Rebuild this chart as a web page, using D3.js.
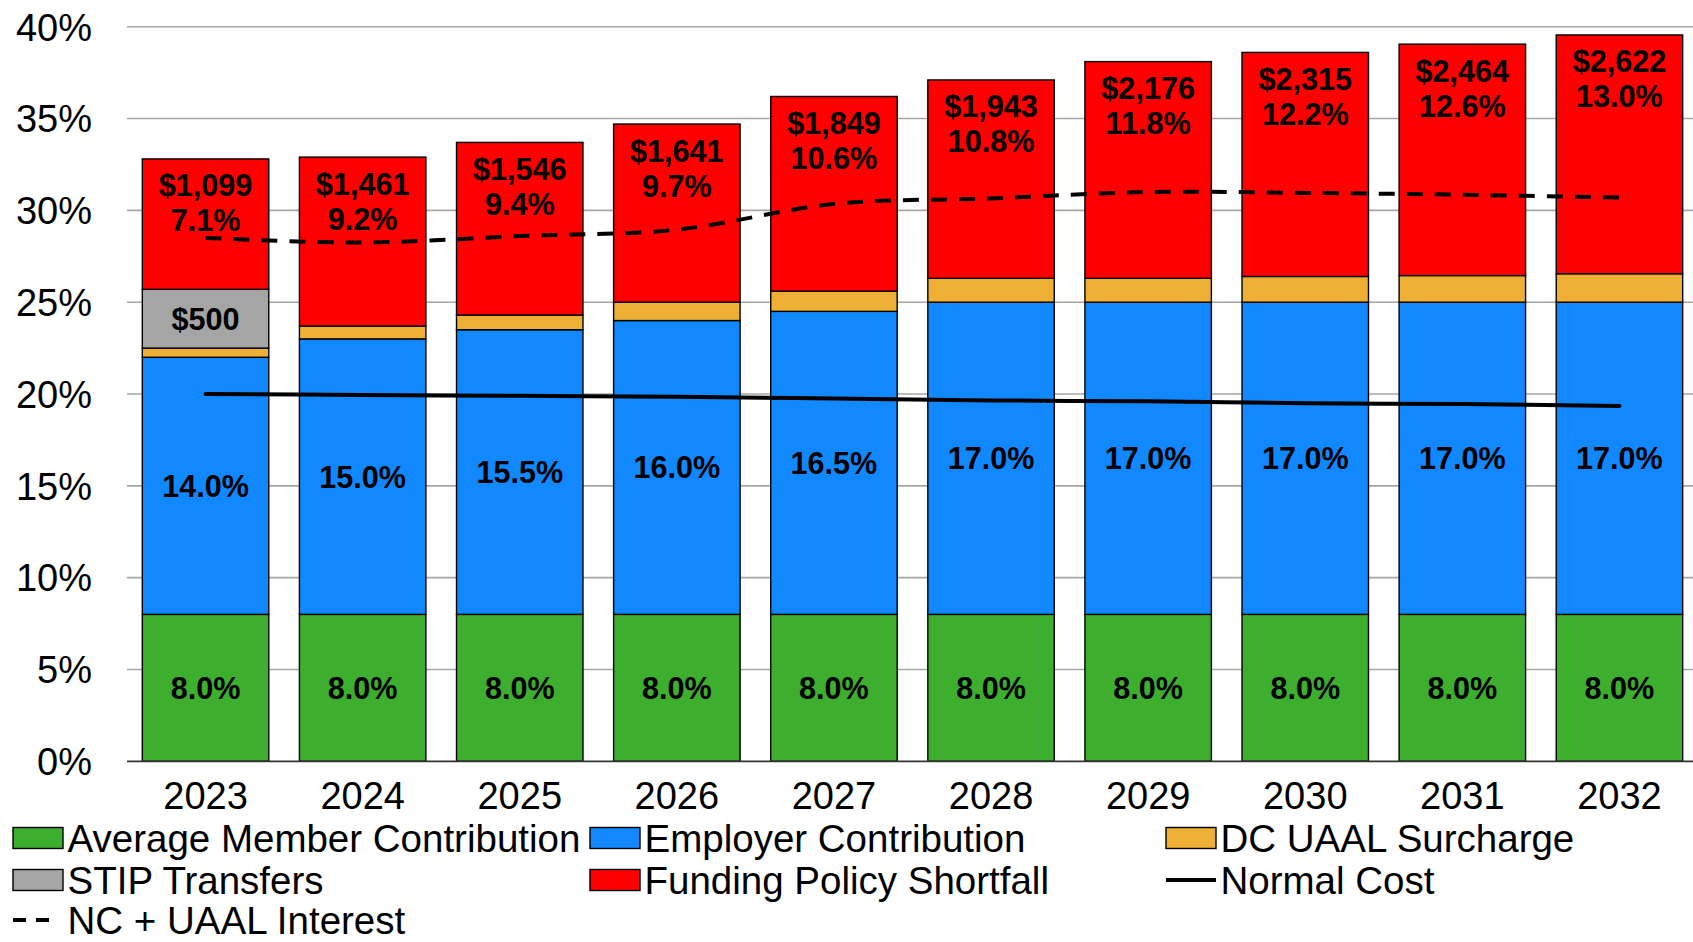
<!DOCTYPE html>
<html>
<head>
<meta charset="utf-8">
<script src="https://cdn.jsdelivr.net/npm/d3@7/dist/d3.min.js"></script>
<style>
  html, body { margin: 0; padding: 0; background: #fff; }
  svg { display: block; font-family: "Liberation Sans", Arial, sans-serif; }
</style>
</head>
<body>
<svg id="chart" width="1693" height="942"></svg>
<script>
// Contribution rates by fiscal year (percent of payroll)
const years = ["2023", "2024", "2025", "2026", "2027", "2028", "2029", "2030", "2031", "2032"];
const memberPct = [8.0, 8.0, 8.0, 8.0, 8.0, 8.0, 8.0, 8.0, 8.0, 8.0];
const employerPct = [14.0, 15.0, 15.5, 16.0, 16.5, 17.0, 17.0, 17.0, 17.0, 17.0];
const surchargePct = [0.5, 0.7, 0.8, 1.0, 1.1, 1.3, 1.3, 1.4, 1.45, 1.55];
const stipPct = [3.2, 0, 0, 0, 0, 0, 0, 0, 0, 0];
const stipDollars = [500, null, null, null, null, null, null, null, null, null];
const shortfallPct = [7.1, 9.2, 9.4, 9.7, 10.6, 10.8, 11.8, 12.2, 12.6, 13.0];
const shortfallDollars = [1099, 1461, 1546, 1641, 1849, 1943, 2176, 2315, 2464, 2622];
const normalCost = [20.0, 19.95, 19.9, 19.85, 19.75, 19.65, 19.6, 19.5, 19.45, 19.35];
const ncUaalInterest = [28.5, 28.25, 28.6, 28.95, 30.35, 30.65, 31.0, 30.95, 30.85, 30.7];
const yTicks = [0, 5, 10, 15, 20, 25, 30, 35, 40];

const seriesKeys = ["member", "employer", "surcharge", "stip", "shortfall"];
const seriesNames = {
  member: "Average Member Contribution",
  employer: "Employer Contribution",
  surcharge: "DC UAAL Surcharge",
  stip: "STIP Transfers",
  shortfall: "Funding Policy Shortfall"
};
const colors = {
  member: "#3DAE2E",
  employer: "#1288FF",
  surcharge: "#EDB034",
  stip: "#A5A5A5",
  shortfall: "#FF0000"
};

const rows = years.map((y, i) => ({
  year: y,
  member: memberPct[i],
  employer: employerPct[i],
  surcharge: surchargePct[i],
  stip: stipPct[i],
  shortfall: shortfallPct[i]
}));

const svg = d3.select("#chart");
const FONT = "Liberation Sans, Arial, sans-serif";

const x = d3.scaleBand().domain(years).range([127, 1698]).paddingInner(0.195).paddingOuter(0.0975);
const y = d3.scaleLinear().domain([0, 40]).range([761.3, 26.7]);

// Horizontal gridlines
svg.append("g")
  .selectAll("line")
  .data(yTicks.filter(t => t > 0))
  .join("line")
  .attr("x1", 127).attr("x2", 1693)
  .attr("y1", d => y(d)).attr("y2", d => y(d))
  .attr("stroke", "#A6A6A6").attr("stroke-width", 1.6);

// Y axis labels
const yAxis = d3.axisLeft(y).tickValues(yTicks).tickFormat(d => d + "%").tickSize(0).tickPadding(0);
const yg = svg.append("g").attr("transform", "translate(92,0)").call(yAxis);
yg.select(".domain").remove();
yg.selectAll("text")
  .attr("font-family", FONT).attr("font-size", 38).attr("fill", "#000")
  .attr("dy", "0.35em");

// Stacked bars
const stack = d3.stack().keys(seriesKeys);
const stacked = stack(rows);

const barG = svg.append("g");
stacked.forEach(layer => {
  barG.append("g")
    .selectAll("rect")
    .data(layer.filter(d => d[1] - d[0] > 0))
    .join("rect")
    .attr("x", d => x(d.data.year))
    .attr("width", x.bandwidth())
    .attr("y", d => y(d[1]))
    .attr("height", d => y(d[0]) - y(d[1]))
    .attr("fill", colors[layer.key])
    .attr("stroke", "#000")
    .attr("stroke-width", 1.4);
});

// X axis
const xAxis = d3.axisBottom(x).tickSize(0).tickPadding(0);
const xg = svg.append("g").attr("transform", "translate(0,761.3)").call(xAxis);
xg.select(".domain").remove();
xg.selectAll("text")
  .attr("font-family", FONT).attr("font-size", 38).attr("fill", "#000")
  .attr("dy", null).attr("y", 48);
svg.append("line")
  .attr("x1", 127).attr("x2", 1693)
  .attr("y1", y(0)).attr("y2", y(0))
  .attr("stroke", "#333").attr("stroke-width", 1.8);

// Bar labels
const labelG = svg.append("g")
  .attr("font-family", FONT).attr("font-size", 30.6).attr("font-weight", "bold")
  .attr("text-anchor", "middle").attr("fill", "#000");
const fmtPct = d3.format(".1f");
const fmtDollar = d3.format("$,");

function centered(key, textFn) {
  const layer = stacked.find(l => l.key === key);
  layer.forEach((d, i) => {
    const t = textFn(i);
    if (t == null) return;
    labelG.append("text")
      .attr("x", x(d.data.year) + x.bandwidth() / 2)
      .attr("y", (y(d[0]) + y(d[1])) / 2)
      .attr("dy", "0.36em")
      .text(t);
  });
}
centered("member", i => fmtPct(memberPct[i]) + "%");
centered("employer", i => fmtPct(employerPct[i]) + "%");
centered("stip", i => stipDollars[i] == null ? null : fmtDollar(stipDollars[i]));

const topLayer = stacked.find(l => l.key === "shortfall");
topLayer.forEach((d, i) => {
  const cx = x(d.data.year) + x.bandwidth() / 2;
  const t = labelG.append("text").attr("x", cx).attr("y", y(d[1]) + 37.5);
  t.append("tspan").attr("x", cx).text(fmtDollar(shortfallDollars[i]));
  t.append("tspan").attr("x", cx).attr("dy", 35).text(fmtPct(shortfallPct[i]) + "%");
});

// Lines
const cx = d => x(d) + x.bandwidth() / 2;
const line = d3.line().curve(d3.curveCardinal.tension(0));
svg.append("path")
  .attr("d", line(years.map((yr, i) => [cx(yr), y(normalCost[i])])))
  .attr("fill", "none").attr("stroke", "#000").attr("stroke-width", 4)
  .attr("stroke-linecap", "round");
svg.append("path")
  .attr("d", line(years.map((yr, i) => [cx(yr), y(ncUaalInterest[i])])))
  .attr("fill", "none").attr("stroke", "#000").attr("stroke-width", 4)
  .attr("stroke-dasharray", "16,12");

// Legend
const legendItems = [
  { type: "rect", key: "member", x: 13, row: 0 },
  { type: "rect", key: "employer", x: 590, row: 0 },
  { type: "rect", key: "surcharge", x: 1166, row: 0 },
  { type: "rect", key: "stip", x: 13, row: 1 },
  { type: "rect", key: "shortfall", x: 590, row: 1 },
  { type: "solid", label: "Normal Cost", x: 1166, row: 1 },
  { type: "dash", label: "NC + UAAL Interest", x: 13, row: 2 }
];
const rowCenter = [838, 880, 920];
const lg = svg.append("g");
legendItems.forEach(it => {
  const cy = rowCenter[it.row];
  if (it.type === "rect") {
    lg.append("rect").attr("x", it.x).attr("y", cy - 10.5).attr("width", 50).attr("height", 21)
      .attr("fill", colors[it.key]).attr("stroke", "#000").attr("stroke-width", 1.4);
  } else if (it.type === "solid") {
    lg.append("line").attr("x1", it.x).attr("x2", it.x + 50).attr("y1", cy).attr("y2", cy)
      .attr("stroke", "#000").attr("stroke-width", 4);
  } else {
    lg.append("line").attr("x1", it.x).attr("x2", it.x + 36).attr("y1", cy).attr("y2", cy)
      .attr("stroke", "#000").attr("stroke-width", 4).attr("stroke-dasharray", "13,10");
  }
  lg.append("text")
    .attr("x", it.x + 54.5).attr("y", cy).attr("dy", "0.36em")
    .attr("font-family", FONT).attr("font-size", 38.5).attr("fill", "#000")
    .text(it.label || seriesNames[it.key]);
});
</script>
</body>
</html>
